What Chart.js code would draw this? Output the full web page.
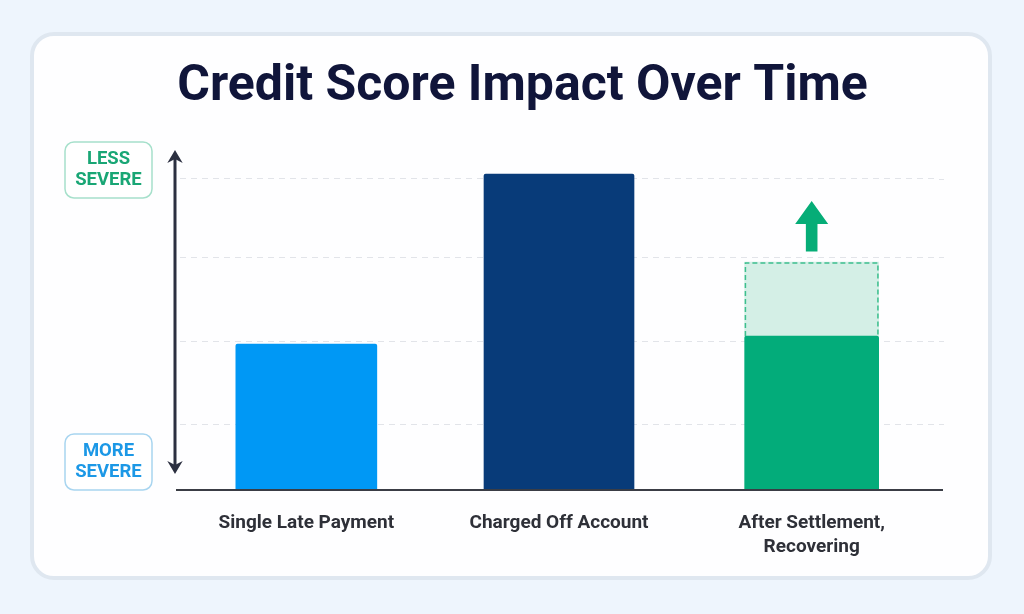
<!DOCTYPE html>
<html>
<head>
<meta charset="utf-8">
<script src="https://cdn.jsdelivr.net/npm/chart.js@4.4.1/dist/chart.umd.min.js"></script>
<style>
  html, body { margin: 0; padding: 0; width: 1024px; height: 614px; overflow: hidden; background: #eef5fd; }
  #card { position: absolute; left: 30px; top: 32px; width: 954px; height: 540px; border: 4px solid #dfe7f0; border-radius: 24px; background: #fefeff; }
  #wrap { position: absolute; left: 0; top: 0; width: 1024px; height: 614px; }
</style>
</head>
<body>
<div id="card"></div>
<div id="wrap"><canvas id="c"></canvas></div>
<script>
// ---- data ----
const categories = ['Single Late Payment', 'Charged Off Account', ['After Settlement,', 'Recovering']];
const impactValues = [42.9, 92.9, 45.3];          // bar heights (higher = less severe)
const recoveryRange = [null, null, [45.3, 67.0]];  // potential recovery band
const gridValues = [19.3, 43.8, 68.4, 91.6];       // dashed reference lines
const scaleMin = 0, scaleMax = 100;
const titleText = 'Credit Score Impact Over Time';
const badgeTop = ['LESS', 'SEVERE'];
const badgeBottom = ['MORE', 'SEVERE'];

// ---- styles ----
const barColors = ['#0098f5', '#083b79', '#03ac7a'];
const barWidths = [141, 150, 134];
const recoveryFill = '#d4efe6';
const recoveryBorder = '#3dbf8e';
const gridColor = '#e2e4e9';

const datasets = categories.map((c, i) => ({
  label: Array.isArray(c) ? c.join(' ') : c,
  data: impactValues.map((v, j) => (j === i ? v : null)),
  backgroundColor: barColors[i],
  barThickness: barWidths[i],
  grouped: false,
  borderRadius: 2,
  borderSkipped: 'bottom'
}));
datasets.push({
  label: 'Recovery',
  data: recoveryRange,
  backgroundColor: recoveryFill,
  barThickness: barWidths[2],
  grouped: false,
  borderSkipped: false,
  isRecovery: true
});

const decor = {
  id: 'decor',
  beforeDatasetsDraw(chart) {
    // extend the dashed grid lines a little past the right edge
    const ctx = chart.ctx, ca = chart.chartArea, yS = chart.scales.y;
    ctx.save();
    ctx.strokeStyle = gridColor;
    ctx.lineWidth = 1;
    ctx.setLineDash([6, 5]);
    yS.ticks.forEach(t => {
      const py = Math.round(yS.getPixelForValue(t.value)) + 0.5;
      ctx.beginPath();
      ctx.moveTo(ca.right + 1, py);
      ctx.lineTo(ca.right + 6, py);
      ctx.stroke();
    });
    ctx.restore();
  },
  afterDatasetsDraw(chart) {
    const ctx = chart.ctx;
    const ca = chart.chartArea;
    const yS = chart.scales.y;
    ctx.save();
    // dashed outline of the recovery band + up arrow
    const ri = chart.data.datasets.findIndex(d => d.isRecovery);
    const meta = chart.getDatasetMeta(ri);
    meta.data.forEach((el, i) => {
      if (recoveryRange[i] == null) return;
      const p = el.getProps(['x', 'y', 'base', 'width'], true);
      const l = p.x - p.width / 2 + 0.75, r = p.x + p.width / 2 - 0.75;
      const top = Math.min(p.y, p.base) + 0.75, bot = Math.max(p.y, p.base);
      ctx.strokeStyle = recoveryBorder;
      ctx.lineWidth = 1.5;
      ctx.setLineDash([5, 3]);
      ctx.beginPath();
      ctx.moveTo(l, bot); ctx.lineTo(l, top); ctx.lineTo(r, top); ctx.lineTo(r, bot);
      ctx.stroke();
      ctx.setLineDash([]);
      // up arrow
      const cx = p.x, ty = top;
      ctx.fillStyle = '#06ad77';
      ctx.beginPath();
      ctx.moveTo(cx, ty - 62);
      ctx.lineTo(cx + 16.5, ty - 39);
      ctx.lineTo(cx + 5.8, ty - 39);
      ctx.lineTo(cx + 5.8, ty - 11.5);
      ctx.lineTo(cx - 5.8, ty - 11.5);
      ctx.lineTo(cx - 5.8, ty - 39);
      ctx.lineTo(cx - 16.5, ty - 39);
      ctx.closePath();
      ctx.fill();
    });
    // baseline
    const y0 = yS.getPixelForValue(scaleMin);
    ctx.strokeStyle = '#3a3d45';
    ctx.lineWidth = 2;
    ctx.beginPath();
    ctx.moveTo(ca.left - 4, y0);
    ctx.lineTo(ca.right + 5, y0);
    ctx.stroke();
    // vertical double arrow
    const ax = ca.left - 5;
    const aTop = yS.getPixelForValue(scaleMax);
    const aBot = y0 - 16;
    ctx.strokeStyle = '#2b2f40';
    ctx.fillStyle = '#2b2f40';
    ctx.lineWidth = 3;
    ctx.beginPath();
    ctx.moveTo(ax, aTop + 6); ctx.lineTo(ax, aBot - 6);
    ctx.stroke();
    const head = (tipY, dir) => {
      ctx.beginPath();
      ctx.moveTo(ax, tipY);
      ctx.lineTo(ax + 7.7, tipY + dir * 13);
      ctx.lineTo(ax, tipY + dir * 9);
      ctx.lineTo(ax - 7.7, tipY + dir * 13);
      ctx.closePath();
      ctx.fill();
    };
    head(aTop, 1);
    head(aBot, -1);
    // badges
    const badge = (lines, cy, border, color) => {
      const bx = ca.left - 115, bw = 87, bh = 56;
      const by = cy - bh / 2;
      ctx.fillStyle = '#ffffff';
      ctx.strokeStyle = border;
      ctx.lineWidth = 1.5;
      ctx.beginPath();
      ctx.roundRect(bx, by, bw, bh, 9);
      ctx.fill();
      ctx.stroke();
      ctx.fillStyle = color;
      ctx.font = '700 18.5px Roboto';
      ctx.textAlign = 'center';
      ctx.textBaseline = 'middle';
      ctx.fillText(lines[0], bx + bw / 2, cy - 10.5);
      ctx.fillText(lines[1], bx + bw / 2, cy + 10.5);
    };
    badge(badgeTop, aTop + 20, '#a6e0cb', '#19a675');
    badge(badgeBottom, y0 - 28, '#a8d5f0', '#1c98e6');
    ctx.restore();
  }
};

function draw() {
  new Chart(document.getElementById('c'), {
    type: 'bar',
    data: { labels: categories, datasets },
    plugins: [decor],
    options: {
      responsive: true,
      maintainAspectRatio: false,
      animation: false,
      devicePixelRatio: 1,
      layout: { padding: { top: 0, left: 107, right: 86, bottom: 44 } },
      plugins: {
        legend: { display: false },
        tooltip: { enabled: false },
        title: {
          display: true,
          text: titleText,
          color: '#10153a',
          font: { family: 'Roboto', weight: '700', size: 50, lineHeight: 1.2 },
          padding: { top: 57, bottom: 33 }
        }
      },
      scales: {
        x: {
          grid: { display: false },
          border: { display: false },
          afterFit(s) { s.height = 80; },
          ticks: {
            color: '#2e3038',
            padding: 13,
            font: { family: 'Roboto', weight: '700', size: 19, lineHeight: 1.28 },
            maxRotation: 0, autoSkip: false
          }
        },
        y: {
          min: scaleMin,
          max: scaleMax,
          afterFit(s) { s.width = 73; },
          afterBuildTicks(s) { s.ticks = gridValues.map(v => ({ value: v })); },
          ticks: { display: false },
          grid: { color: gridColor, lineWidth: 1, drawTicks: false },
          border: { display: false, dash: [6, 5] }
        }
      }
    }
  });
}
if (document.fonts && document.fonts.load) {
  Promise.all([document.fonts.load('700 50px Roboto'), document.fonts.load('700 19px Roboto')]).then(draw, draw);
} else { draw(); }
</script>
</body>
</html>
